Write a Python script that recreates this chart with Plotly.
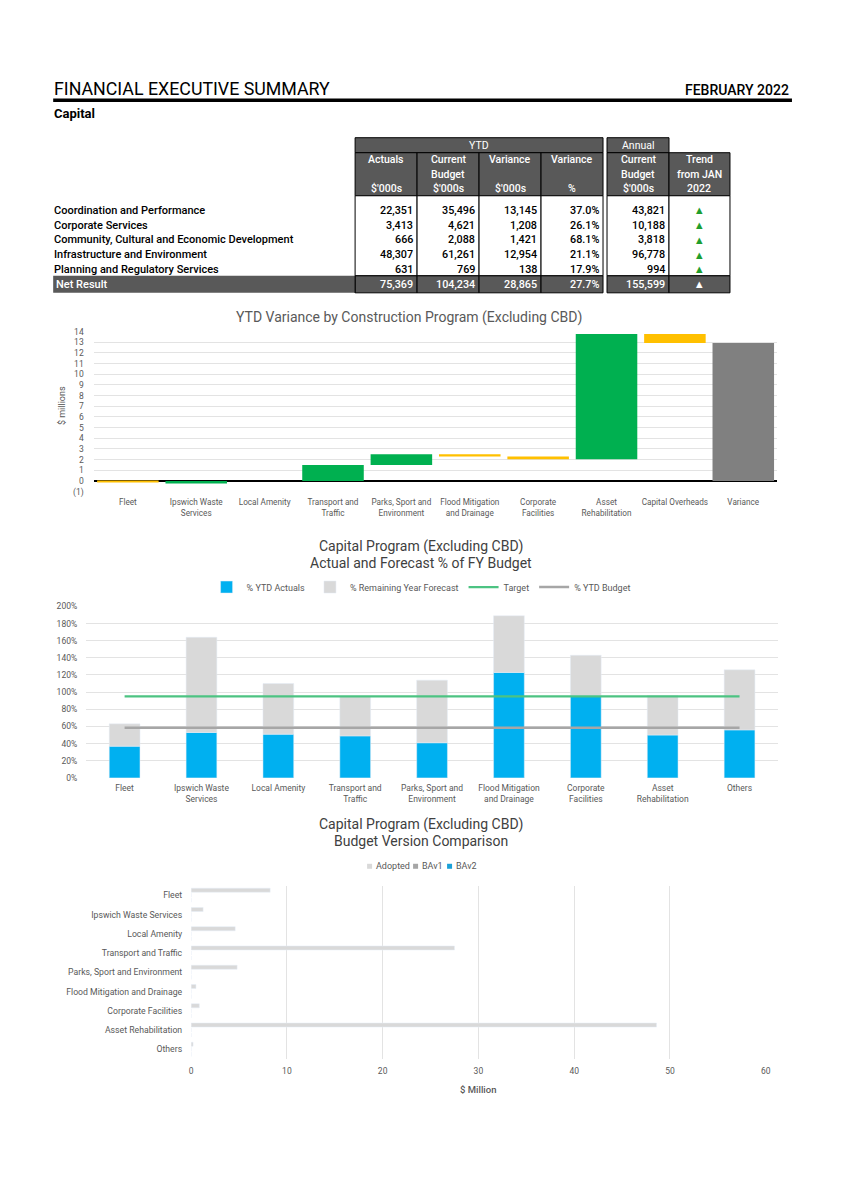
import plotly.graph_objects as go

# ---------------- DATA ----------------
table_rows = ["Coordination and Performance", "Corporate Services",
              "Community, Cultural and Economic Development",
              "Infrastructure and Environment", "Planning and Regulatory Services"]
ytd_actuals = [22351, 3413, 666, 48307, 631]
ytd_budget = [35496, 4621, 2088, 61261, 769]
ytd_variance = [13145, 1208, 1421, 12954, 138]
ytd_variance_pct = [37.0, 26.1, 68.1, 21.1, 17.9]
annual_budget = [43821, 10188, 3818, 96778, 994]
trend_symbols = ["▲", "▲", "▲", "▲", "▲"]
net_label = "Net Result"
net_values = [75369, 104234, 28865, 27.7, 155599]
net_trend = "▲"

col_headers = [["Actuals", "", "$'000s"], ["Current", "Budget", "$'000s"],
               ["Variance", "", "$'000s"], ["Variance", "", "%"],
               ["Current", "Budget", "$'000s"], ["Trend", "from JAN", "2022"]]

wf_categories = ["Fleet", "Ipswich Waste<br>Services", "Local Amenity", "Transport and<br>Traffic",
                 "Parks, Sport and<br>Environment", "Flood Mitigation<br>and Drainage",
                 "Corporate<br>Facilities", "Asset<br>Rehabilitation", "Capital Overheads", "Variance"]
wf_values = [-0.15, 0.15, 0.0, 1.5, 1.0, -0.2, -0.25, 11.72, -0.85, 12.92]
wf_measures = ["relative"] * 9 + ["total"]
wf_ticks = list(range(-1, 15))
wf_ticktext = ["(1)"] + [str(v) for v in range(0, 15)]

prog_categories = ["Fleet", "Ipswich Waste<br>Services", "Local Amenity", "Transport and<br>Traffic",
                   "Parks, Sport and<br>Environment", "Flood Mitigation<br>and Drainage",
                   "Corporate<br>Facilities", "Asset<br>Rehabilitation", "Others"]
ytd_actual_pct = [37, 53, 51, 49, 41, 123, 96, 50, 56]
remaining_pct = [26, 111, 59, 46, 73, 66, 47, 46, 70]
target_pct = [95, 95, 95, 95, 95, 95, 95, 95, 95]
ytd_budget_pct = [58.5, 58.5, 58.5, 58.5, 58.5, 58.5, 58.5, 58.5, 58.5]

bv_categories = ["Fleet", "Ipswich Waste Services", "Local Amenity", "Transport and Traffic",
                 "Parks, Sport and Environment", "Flood Mitigation and Drainage",
                 "Corporate Facilities", "Asset Rehabilitation", "Others"]
adopted = [8.25, 1.25, 4.6, 27.5, 4.8, 0.5, 0.85, 48.6, 0.2]
bav1 = [0, 0, 0, 0, 0, 0, 0, 0, 0]
bav2 = [0, 0, 0, 0, 0, 0, 0, 0, 0]
bv_series = ["Adopted", "BAv1", "BAv2"]
bv_colors = ["#D9D9D9", "#A6A6A6", "#1BA1D8"]

# ---------------- LAYOUT HELPERS ----------------
W, H = 844, 1193
# observed page-to-photo mapping: photo = a * page + b
AX, BX = 0.992, 1.8
AY, BY = 0.990, 4.4


def X(px):
    return ((px - BX) / AX) / W


def Y(py):
    return 1 - ((py - BY) / AY) / H


FONT = "Roboto"
TXT = "#595959"
DARK = "#595959"

fig = go.Figure()
annotations = []
shapes = []


def text(x, y, s, size=10, color="black", xanchor="left", weight=None, angle=0, family=FONT):
    f = dict(family=family, size=size, color=color)
    if weight:
        f["weight"] = weight
    annotations.append(dict(x=X(x), y=Y(y), xref="paper", yref="paper", text=s, showarrow=False,
                            xanchor=xanchor, yanchor="middle", font=f, textangle=angle))


def rect(x0, y0, x1, y1, fill, line="black", lw=1):
    shapes.append(dict(type="rect", xref="paper", yref="paper", x0=X(x0), x1=X(x1), y0=Y(y1), y1=Y(y0),
                       fillcolor=fill, line=dict(color=line, width=lw), layer="below"))


# ---------------- PAGE HEADER ----------------
text(52, 88, "FINANCIAL EXECUTIVE SUMMARY", size=17.8, color="black")
text(791, 89, "FEBRUARY 2022", size=14, color="black", xanchor="right", weight=500)
shapes.append(dict(type="line", xref="paper", yref="paper", x0=X(53), x1=X(792), y0=Y(99.5), y1=Y(99.5),
                   line=dict(color="black", width=3.5)))
text(52, 113, "Capital", size=13, color="black", weight="bold")

# ---------------- TABLE ----------------
col_left = [355, 417, 479, 541, 607, 669]
col_right = [417, 479, 541, 603, 669, 730]
hdr_top, hdr_mid, hdr_bot, body_bot, net_bot = 137, 152, 195, 275, 292
row_y = [209.5, 224.3, 239.1, 253.9, 268.5]
net_y = 283.5

rect(355, hdr_top, 603, hdr_mid, DARK)
rect(607, hdr_top, 669, hdr_mid, DARK)
text(479, 144.5, "YTD", size=10.5, color="white", xanchor="center")
text(638, 145, "Annual", size=10.5, color="white", xanchor="center")
hdr_line_y = [159, 174, 188]
for i, (l, r) in enumerate(zip(col_left, col_right)):
    rect(l, hdr_mid, r, hdr_bot, DARK)
    rect(l, hdr_bot, r, body_bot, "white")
    rect(l, body_bot, r, net_bot, DARK)
    c = (l + r) / 2
    for j, s in enumerate(col_headers[i]):
        if s:
            text(c, hdr_line_y[j], s, size=10.5, color="white", xanchor="center", weight=500)
rect(53, body_bot, 355, net_bot, DARK, line=DARK, lw=0)
shapes.append(dict(type="line", xref="paper", yref="paper", x0=X(355), x1=X(355), y0=Y(body_bot), y1=Y(net_bot),
                   line=dict(color="black", width=1)))

columns = [ytd_actuals, ytd_budget, ytd_variance, ytd_variance_pct, annual_budget]
for r, lab in enumerate(table_rows):
    text(52, row_y[r], lab, size=11, color="black", weight=500)
    for ci, col in enumerate(columns):
        v = col[r]
        s = f"{v:.1f}%" if ci == 3 else f"{v:,}"
        text(col_right[ci] - 2, row_y[r], s, size=10.8, color="black", xanchor="right", weight=500)
    text((col_left[5] + col_right[5]) / 2, row_y[r], trend_symbols[r], size=8.5, color="#1E9E2E",
         xanchor="center", family="DejaVu Sans")
text(54, net_y, net_label, size=11, color="white", weight=500)
for ci, v in enumerate(net_values):
    s = f"{v:.1f}%" if ci == 3 else f"{v:,}"
    text(col_right[ci] - 2, net_y, s, size=10.8, color="white", xanchor="right", weight=500)
text((col_left[5] + col_right[5]) / 2, net_y, net_trend, size=8.5, color="white", xanchor="center",
     family="DejaVu Sans")

# ---------------- CHART 1 : WATERFALL ----------------
fig.add_trace(go.Waterfall(
    x=wf_categories, y=wf_values, measure=wf_measures, xaxis="x", yaxis="y",
    increasing=dict(marker=dict(color="#00B050")),
    decreasing=dict(marker=dict(color="#FFC000")),
    totals=dict(marker=dict(color="#808080")),
    connector=dict(visible=False), width=0.9, showlegend=False, hoverinfo="x+y"))
text(409, 317, "YTD Variance by Construction Program (Excluding CBD)", size=14, color=TXT, xanchor="center")
text(62, 405, "$ millions", size=9, color=TXT, xanchor="center", angle=-90)

# ---------------- CHART 2 : % OF FY BUDGET ----------------
fig.add_trace(go.Bar(x=prog_categories, y=ytd_actual_pct, name="% YTD Actuals", marker_color="#00B0F0",
                     width=0.4, offsetgroup="p", xaxis="x2", yaxis="y2", legend="legend"))
fig.add_trace(go.Bar(x=prog_categories, y=remaining_pct, base=ytd_actual_pct, name="% Remaining Year Forecast",
                     marker_color="#D9D9D9", width=0.4, offsetgroup="p", xaxis="x2", yaxis="y2",
                     legend="legend"))
fig.add_trace(go.Scatter(x=prog_categories, y=target_pct, mode="lines", name="Target",
                         line=dict(color="#4CC382", width=2.2), xaxis="x2", yaxis="y2", legend="legend"))
fig.add_trace(go.Scatter(x=prog_categories, y=ytd_budget_pct, mode="lines", name="% YTD Budget",
                         line=dict(color="#A6A6A6", width=2.5), xaxis="x2", yaxis="y2", legend="legend"))
text(421, 545, "Capital Program (Excluding CBD)", size=14, color="#404040", xanchor="center")
text(421, 562, "Actual and Forecast % of FY Budget", size=14, color="#404040", xanchor="center")

# ---------------- CHART 3 : BUDGET VERSIONS ----------------
bv_offsets = [-0.37, -0.11, 0.15]
for name, vals, colr, off in zip(bv_series, [adopted, bav1, bav2], bv_colors, bv_offsets):
    fig.add_trace(go.Bar(y=bv_categories, x=vals, orientation="h", name=name, marker_color=colr,
                         width=0.21, offset=off, xaxis="x3", yaxis="y3", showlegend=False))
text(421, 823, "Capital Program (Excluding CBD)", size=14, color="#404040", xanchor="center")
text(421, 840, "Budget Version Comparison", size=14, color="#404040", xanchor="center")
text(478, 1088, "$ Million", size=9.5, color=TXT, xanchor="center", weight=500)
# compact legend (small square keys) for chart 3
key_x = [367, 413, 447]
for kx, name, colr in zip(key_x, bv_series, bv_colors):
    shapes.append(dict(type="rect", xref="paper", yref="paper", x0=X(kx), x1=X(kx + 5), y0=Y(867.5),
                       y1=Y(862.5), fillcolor=colr, line=dict(width=0)))
    text(kx + 7, 865, name, size=9, color=TXT)

tickfont = dict(family=FONT, size=8.5, color=TXT)
fig.update_layout(
    width=W, height=H, autosize=False,
    margin=dict(l=0, r=0, t=0, b=0, pad=0),
    paper_bgcolor="white", plot_bgcolor="white",
    font=dict(family=FONT, color=TXT),
    annotations=annotations, shapes=shapes,
    barmode="group",
    xaxis=dict(domain=[X(93.5), X(777.5)], anchor="y", showgrid=False, showline=False, zeroline=False,
               tickfont=dict(family=FONT, size=8.2, color=TXT), ticks="", ticklabelstandoff=4),
    yaxis=dict(domain=[Y(490.7), Y(330.7)], anchor="x", range=[-1, 14], tickvals=wf_ticks,
               ticktext=wf_ticktext, gridcolor="#E3E3E3", gridwidth=1, zeroline=True,
               zerolinecolor="black", zerolinewidth=1.6, showline=False, tickfont=tickfont,
               ticks="", ticklabelstandoff=9),
    xaxis2=dict(domain=[X(86), X(778)], anchor="y2", showgrid=False, showline=False, zeroline=False,
                tickfont=tickfont, ticks="", ticklabelstandoff=4),
    yaxis2=dict(domain=[Y(776.7), Y(605.3)], anchor="x2", range=[0, 200], dtick=20, ticksuffix="%",
                gridcolor="#E3E3E3", zeroline=False, showline=False, tickfont=tickfont, ticks="",
                ticklabelstandoff=8),
    xaxis3=dict(domain=[X(191), X(765.7)], anchor="y3", range=[0, 60], dtick=10, gridcolor="#E3E3E3",
                zeroline=False, showline=False, tickfont=tickfont, ticks="", ticklabelstandoff=5),
    yaxis3=dict(domain=[Y(1057.6), Y(884.4)], anchor="x3", autorange="reversed", showgrid=False,
                zeroline=False, showline=False, tickfont=dict(family=FONT, size=8.7, color=TXT), ticks="",
                ticklabelstandoff=8),
    legend=dict(orientation="h", x=X(421), xanchor="center", y=Y(586), yanchor="middle",
                font=dict(family=FONT, size=9, color=TXT), bgcolor="rgba(0,0,0,0)"),
)

fig.write_html("out.html", config={"displayModeBar": False},
               post_script="document.body.style.margin='0';document.body.style.overflow='hidden';")
